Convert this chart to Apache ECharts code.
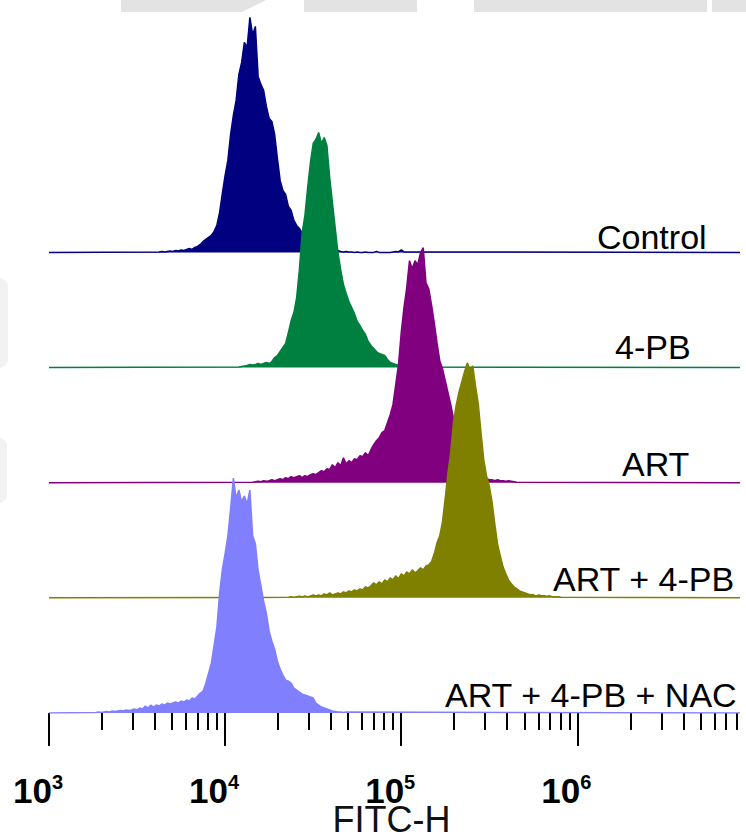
<!DOCTYPE html>
<html>
<head>
<meta charset="utf-8">
<title>FITC-H histograms</title>
<script src="https://cdn.jsdelivr.net/npm/echarts@6/dist/echarts.min.js"></script>
<style>
  html, body { margin: 0; padding: 0; background: #fff; }
  #chart { width: 746px; height: 836px; }
</style>
</head>
<body>
<div id="chart"></div>
<script>
// Histogram binning on the FITC-H scale: bin k sits at BIN_ORIGIN * 10^(k / BINS_PER_DECADE)
const BIN_ORIGIN = 1000;
const BINS_PER_DECADE = 64;

// Axis range
const AXIS_MIN = 1000;
const AXIS_MAX = 8388608;

// Tick labels (decade exponents) and minor tick multipliers
const majorExponents = [3, 4, 5, 6];
const minorMultipliers = [2, 3, 4, 5, 6, 7, 8, 9];

// Samples, top to bottom
const sampleNames = ['Control', '4-PB', 'ART', 'ART + 4-PB', 'ART + 4-PB + NAC'];
const sampleColors = ['#000080', '#008040', '#800080', '#808000', '#8080ff'];
const firstBin = [40, 69, 74, 87, 17];

// Event counts per bin
const controlCounts = [
  0.5, 1, 0.5, 1, 1.5, 1, 2, 1.5, 2.5, 2, 3, 4, 3, 5, 6,
  8, 11, 13, 15, 17, 21, 27, 40, 59, 77, 92, 118, 137, 152, 178, 190, 210, 205, 235, 218,
  226, 176, 168, 162, 146, 134, 131, 118, 94, 72, 62, 58, 46, 42, 32, 27, 24, 19, 16, 12,
  9, 6, 4, 3, 2, 2, 1, 2, 1, 1, 2, 1, 0.5, 1, 0.5, 0.5,
  0, 0.5, 0, 0, 0.5, 0, 0, 0, 1, 0, 0, 0, 0, 0, 0.5, 1, 0.5, 2.5, 0.5
];
const pb4Counts = [
  0.5, 1, 1.5, 2, 3, 2.5, 3, 4, 3, 4, 5, 4, 6, 10, 12, 16, 20, 24, 35,
  47, 55, 70, 98, 135, 152, 180, 205, 224, 228, 235, 224, 230, 222,
  190, 165, 140, 115, 98, 83, 74, 66, 60, 54, 46, 42, 37, 33, 26, 22, 19, 16, 14, 13, 12,
  8, 5, 4, 3, 2, 1, 0.5, 1, 0.5
];
const artCounts = [
  0.5, 1, 1.5, 1, 2, 1.5, 2, 3, 2, 3, 4, 3, 5, 4, 6, 5, 6, 7, 5, 7, 6, 8, 9, 8, 10,
  12, 11, 14, 13, 18, 15, 20, 17, 25, 19, 22, 20, 24, 23, 27, 26, 30, 27, 33, 38, 42, 45,
  50, 52, 60, 68, 78, 98, 118, 150, 175, 195, 222, 214, 222, 218, 230, 235,
  200, 194, 178, 160, 140, 122, 114, 102, 90, 78, 64, 52, 42, 34, 27, 21, 17, 13, 10,
  8, 6, 5, 4, 3, 3, 2, 3, 2, 2, 1.5, 2, 1.5, 1, 0.5
];
const artPbCounts = [
  0.5, 1, 0.5, 1, 1.5, 1, 2, 1, 2, 3, 2, 3, 2, 4, 3, 5, 3, 4, 5, 4, 6, 5, 7, 6, 8, 7,
  9, 8, 11, 10, 12, 15, 13, 16, 14, 18, 16, 20, 18, 22, 19, 24, 22, 26, 24, 28, 25, 27,
  30, 28, 32, 33, 36, 44, 55, 62, 76, 100, 125, 146, 176, 193, 206, 216, 226, 235, 228,
  232, 212, 194, 165, 138, 122, 112, 96, 74, 54, 42, 31, 24, 18, 14, 11, 9, 7, 6, 5, 4,
  3, 3, 2, 3, 2, 2, 1.5, 2, 1, 1, 1, 0.5
];
const nacCounts = [
  0.5, 1, 0.5, 1, 1.5, 1, 2, 1.5, 2, 2.5, 2, 3, 2.5, 3, 4, 3, 5, 4, 7, 5, 8, 6, 8, 7,
  9, 8, 10, 9, 10, 11, 10, 12, 11, 13, 12, 15, 14, 17, 20, 22, 30, 40, 50, 68, 86, 120,
  144, 160, 178, 205, 236, 216, 224, 212, 218, 210, 224, 178, 170, 143, 128, 112, 100,
  82, 72, 64, 52, 44, 38, 33, 32, 30, 25, 23, 21, 19, 18, 17, 16, 15, 10, 8, 6, 5, 4,
  3, 2, 1.5, 1, 1, 0.5, 1
];
const sampleCounts = [controlCounts, pb4Counts, artCounts, artPbCounts, nacCounts];

// Vertical spacing between stacked histograms, in % of mode
const OFFSET_STEP = 49;

const binValue = k => BIN_ORIGIN * Math.pow(10, k / BINS_PER_DECADE);

// Each histogram is normalised to its mode and raised onto its own baseline;
// later samples are layered over earlier ones.
const series = sampleNames.map((name, i) => {
  const counts = sampleCounts[i];
  const mode = Math.max.apply(null, counts);
  const base = (sampleNames.length - 1 - i) * OFFSET_STEP;
  const pts = [[AXIS_MIN, base]];
  counts.forEach((c, j) => pts.push([binValue(firstBin[i] + j), base + c / mode * 100]));
  pts.push([AXIS_MAX, base]);
  return {
    type: 'line',
    name: name,
    xAxisIndex: 0,
    yAxisIndex: 0,
    z: 2 + i,
    data: pts,
    symbol: 'none',
    showSymbol: false,
    silent: true,
    animation: false,
    lineStyle: { color: sampleColors[i], width: 1.5 },
    itemStyle: { color: sampleColors[i] },
    areaStyle: { color: sampleColors[i], opacity: 1, origin: base }
  };
});

const logMax = Math.log10(AXIS_MAX);
const minorTickExponents = [];
majorExponents.forEach(d => minorMultipliers.forEach(m => {
  const e = Math.log10(m) + d;
  if (e < logMax) minorTickExponents.push(e);
}));

const fontFamily = '"Liberation Sans", Arial, sans-serif';
const labelFont = '34px ' + fontFamily;

const chart = echarts.init(document.getElementById('chart'), null, { renderer: 'svg' });
chart.setOption({
  backgroundColor: '#ffffff',
  animation: false,
  grid: { left: 49, right: 6, top: 8, bottom: 123, containLabel: false, outerBoundsMode: 'none' },
  xAxis: [
    { type: 'log', logBase: 10, min: AXIS_MIN, max: AXIS_MAX, show: false },
    {
      type: 'value', min: 3, max: logMax, position: 'bottom',
      axisLine: { show: false },
      splitLine: { show: false },
      axisTick: { show: true, customValues: majorExponents, length: 33,
                  lineStyle: { color: '#000', width: 2 } },
      axisLabel: {
        customValues: majorExponents,
        margin: 59,
        padding: [0, 22, 0, 0],
        formatter: v => '{b|10}{e|' + v + '}',
        rich: {
          b: { fontSize: 35, fontWeight: 'bold', fontFamily: fontFamily, color: '#000', lineHeight: 36 },
          e: { fontSize: 20, fontWeight: 'bold', fontFamily: fontFamily, color: '#000', lineHeight: 20, verticalAlign: 'top' }
        }
      },
      name: 'FITC-H',
      nameLocation: 'middle',
      nameGap: 88.5,
      nameMoveOverlap: false,
      nameTextStyle: { fontSize: 36, lineHeight: 36, fontFamily: fontFamily, color: '#111', padding: [0, 6, 0, 0] }
    },
    {
      type: 'value', min: 3, max: logMax, position: 'bottom',
      axisLine: { show: false },
      splitLine: { show: false },
      axisLabel: { show: false },
      axisTick: { show: true, customValues: minorTickExponents, length: 17,
                  lineStyle: { color: '#000', width: 2 } }
    }
  ],
  yAxis: { type: 'value', min: 0, max: 300, show: false },
  series: series,
  graphic: [
    // faint banding along the top edge
    { type: 'rect', shape: { x: 121, y: 0, width: 121, height: 12 }, style: { fill: '#e3e3e3' }, silent: true },
    { type: 'polygon', shape: { points: [[242, 0], [266, 0], [242, 12]] }, style: { fill: '#e3e3e3' }, silent: true },
    { type: 'rect', shape: { x: 304, y: 0, width: 113, height: 12 }, style: { fill: '#e3e3e3' }, silent: true },
    { type: 'rect', shape: { x: 474, y: 0, width: 233, height: 12 }, style: { fill: '#e3e3e3' }, silent: true },
    { type: 'rect', shape: { x: 712, y: 0, width: 34, height: 12 }, style: { fill: '#e3e3e3' }, silent: true },
    { type: 'rect', shape: { x: -10, y: 278, width: 18, height: 90, r: 9 }, style: { fill: '#f2f2f2' }, silent: true },
    { type: 'rect', shape: { x: -10, y: 438, width: 17, height: 65, r: 8 }, style: { fill: '#f2f2f2' }, silent: true },
    // sample labels
    { type: 'text', x: 597, y: 220, style: { text: sampleNames[0], font: labelFont, fill: '#000', textAlign: 'left', textVerticalAlign: 'top' } },
    { type: 'text', x: 615, y: 330, style: { text: sampleNames[1], font: labelFont, fill: '#000', textAlign: 'left', textVerticalAlign: 'top' } },
    { type: 'text', x: 622, y: 447, style: { text: sampleNames[2], font: labelFont, fill: '#000', textAlign: 'left', textVerticalAlign: 'top' } },
    { type: 'text', x: 553, y: 562, style: { text: sampleNames[3], font: labelFont, fill: '#000', textAlign: 'left', textVerticalAlign: 'top' } },
    { type: 'text', x: 445, y: 678, style: { text: sampleNames[4], font: labelFont, fill: '#000', textAlign: 'left', textVerticalAlign: 'top' } }
  ]
});
</script>
</body>
</html>
